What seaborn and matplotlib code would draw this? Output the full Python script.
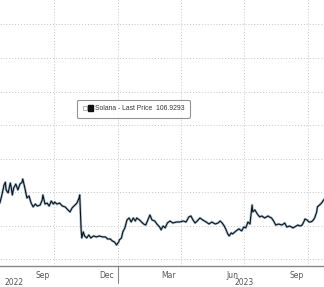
import matplotlib
matplotlib.use("Agg")
import matplotlib.pyplot as plt
import matplotlib.dates as mdates
import matplotlib.transforms as mtransforms
from matplotlib.patches import Patch
from matplotlib.lines import Line2D
from matplotlib.legend_handler import HandlerTuple
import pandas as pd
import seaborn as sns

dates = [
    "2022-07-15", "2022-07-18", "2022-07-21", "2022-07-23", "2022-07-24", "2022-07-27",
    "2022-07-30", "2022-07-31", "2022-08-02", "2022-08-04", "2022-08-07", "2022-08-10",
    "2022-08-13", "2022-08-16", "2022-08-17", "2022-08-20", "2022-08-23", "2022-08-26",
    "2022-08-29", "2022-09-01", "2022-09-04", "2022-09-07", "2022-09-11", "2022-09-14",
    "2022-09-15", "2022-09-18", "2022-09-21", "2022-09-24", "2022-09-27", "2022-09-30",
    "2022-10-02", "2022-10-05", "2022-10-09", "2022-10-13", "2022-10-17", "2022-10-21",
    "2022-10-24", "2022-10-27", "2022-10-31", "2022-11-03", "2022-11-06", "2022-11-07",
    "2022-11-08", "2022-11-09", "2022-11-10", "2022-11-12", "2022-11-14", "2022-11-17",
    "2022-11-20", "2022-11-23", "2022-11-27", "2022-12-01", "2022-12-05", "2022-12-10",
    "2022-12-14", "2022-12-17", "2022-12-21", "2022-12-24", "2022-12-27", "2022-12-30",
    "2023-01-02", "2023-01-03", "2023-01-06", "2023-01-08", "2023-01-11", "2023-01-12",
    "2023-01-14", "2023-01-17", "2023-01-20", "2023-01-23", "2023-01-26", "2023-01-28",
    "2023-02-01", "2023-02-04", "2023-02-07", "2023-02-10", "2023-02-13", "2023-02-16",
    "2023-02-19", "2023-02-23", "2023-02-26", "2023-03-02", "2023-03-04", "2023-03-07",
    "2023-03-10", "2023-03-13", "2023-03-17", "2023-03-21", "2023-03-26", "2023-03-31",
    "2023-04-05", "2023-04-09", "2023-04-13", "2023-04-16", "2023-04-19", "2023-04-22",
    "2023-04-25", "2023-04-29", "2023-05-03", "2023-05-08", "2023-05-12", "2023-05-16",
    "2023-05-21", "2023-05-25", "2023-05-28", "2023-05-31", "2023-06-03", "2023-06-05",
    "2023-06-08", "2023-06-10", "2023-06-13", "2023-06-15", "2023-06-20", "2023-06-24",
    "2023-06-28", "2023-07-01", "2023-07-04", "2023-07-07", "2023-07-10", "2023-07-13",
    "2023-07-14", "2023-07-17", "2023-07-21", "2023-07-24", "2023-07-27", "2023-07-31",
    "2023-08-05", "2023-08-07", "2023-08-10", "2023-08-13", "2023-08-16", "2023-08-20",
    "2023-08-25", "2023-08-29", "2023-09-01", "2023-09-05", "2023-09-10", "2023-09-12",
    "2023-09-17", "2023-09-20", "2023-09-23", "2023-09-26", "2023-09-27", "2023-09-30",
    "2023-10-03", "2023-10-05", "2023-10-08", "2023-10-11", "2023-10-14", "2023-10-15",
    "2023-10-18", "2023-10-21", "2023-10-24", "2023-10-25",
]
prices = [
    33.6, 38.4, 44.3, 46.0, 41.4, 39.6,
    45.5, 43.8, 38.4, 42.6, 44.9, 41.4,
    44.9, 46.0, 47.9, 42.6, 36.6, 37.8,
    33.6, 31.3, 33.0, 31.8, 32.4, 35.4,
    38.4, 33.0, 33.6, 31.8, 34.8, 33.0,
    34.2, 33.0, 33.6, 31.8, 31.3, 29.5,
    28.3, 30.7, 32.4, 33.6, 36.6, 38.4,
    27.7, 17.6, 12.8, 16.4, 14.0, 12.8,
    14.6, 12.8, 14.0, 13.4, 14.0, 13.4,
    13.4, 12.2, 12.2, 11.0, 10.4, 8.6,
    10.4, 11.6, 12.8, 16.4, 18.8, 20.5,
    23.5, 24.7, 22.3, 24.7, 22.9, 24.7,
    23.5, 22.3, 21.1, 20.5, 23.5, 26.5,
    23.5, 22.9, 21.1, 19.3, 17.6, 19.9,
    18.8, 21.7, 22.9, 21.7, 22.3, 22.3,
    22.9, 22.3, 25.3, 25.9, 23.5, 21.7,
    22.9, 24.7, 23.5, 22.3, 21.1, 22.3,
    21.1, 21.7, 22.9, 21.7, 19.9, 18.2,
    15.2, 14.0, 15.8, 15.2, 17.0, 18.2,
    17.0, 19.3, 18.8, 22.3, 21.1, 32.4,
    28.3, 29.5, 26.8, 25.3, 25.9, 24.7,
    25.9, 25.3, 24.7, 22.9, 20.5, 21.1,
    20.5, 21.7, 19.3, 19.9, 18.8, 19.3,
    20.5, 19.9, 20.5, 22.9, 24.1, 23.5,
    22.3, 22.3, 22.9, 24.7, 28.3, 31.3,
    32.4, 33.6, 35.4, 36.0,
]
series_label = "Solana - Last Price  106.9293"
month_labels = ["Sep", "Dec", "Mar", "Jun", "Sep"]
month_label_dates = ["2022-09-15", "2022-12-15", "2023-03-15", "2023-06-15", "2023-09-15"]
year_labels = ["2022", "2023"]
year_label_dates = ["2022-08-05", "2023-07-01"]

df = pd.DataFrame({"date": pd.to_datetime(dates), "price": prices})

sns.set_style("white")
plt.rcParams["font.family"] = ["DejaVu Sans"]

fig = plt.figure(figsize=(3.24, 2.87), dpi=100)
ax = fig.add_axes([0, 21 / 287, 1, 266 / 287])

sns.lineplot(data=df, x="date", y="price", ax=ax, color="#6a9cc4", linewidth=1.8, alpha=0.6)
sns.lineplot(data=df, x="date", y="price", ax=ax, color="#111111", linewidth=0.8)

ax.set_xlim(pd.Timestamp("2022-07-15 06:00"), pd.Timestamp("2023-10-24 12:00"))
ax.set_ylim(-3.9, 154.5)
ax.set_yticks(range(0, 160, 20))
ax.set_xticks(pd.to_datetime(["2022-10-01", "2023-01-01", "2023-04-01", "2023-07-01", "2023-10-01"]))
ax.xaxis.set_minor_locator(mdates.MonthLocator())
ax.grid(True, which="major", color="#c4c4c4", linestyle=(0, (1, 2)), linewidth=0.7)
ax.set_xticklabels([])
ax.set_yticklabels([])
ax.tick_params(axis="y", length=0)
ax.tick_params(axis="x", which="major", length=3, color="#777777", direction="out")
ax.tick_params(axis="x", which="minor", length=2.5, color="#777777", direction="out")
ax.set_xlabel("")
ax.set_ylabel("")
for s in ["top", "left", "right"]:
    ax.spines[s].set_visible(False)
ax.spines["bottom"].set_color("#888888")
ax.spines["bottom"].set_linewidth(1.0)

trans = mtransforms.blended_transform_factory(ax.transData, ax.transAxes)
ax.plot([pd.Timestamp("2023-01-01")] * 2, [0, -0.065], transform=trans, color="#888888",
        linewidth=0.8, clip_on=False)

for lab, d in zip(month_labels, month_label_dates):
    ax.text(pd.Timestamp(d), -0.017, lab, transform=trans, ha="center", va="top",
            fontsize=5.5, color="#555555")
for lab, d in zip(year_labels, year_label_dates):
    ax.text(pd.Timestamp(d), -0.046, lab, transform=trans, ha="center", va="top",
            fontsize=5.5, color="#555555")

small_sq = Line2D([], [], marker="s", markersize=2.2, markerfacecolor="white",
                  markeredgecolor="#999999", markeredgewidth=0.5, linestyle="")
big_sq = Patch(facecolor="#111111", edgecolor="#111111")
leg = ax.legend(handles=[(small_sq, big_sq)], labels=[series_label],
                handler_map={tuple: HandlerTuple(ndivide=None, pad=0.2)},
                loc="upper left", bbox_to_anchor=(0.238, 0.625),
                prop={"family": "Liberation Sans", "size": 4.9}, frameon=True,
                handlelength=1.5, handleheight=0.9, handletextpad=0.3, borderpad=0.8,
                fancybox=True, edgecolor="#777777", borderaxespad=0)
leg.get_frame().set_linewidth(0.8)
for t in leg.get_texts():
    t.set_color("#333333")

fig.savefig("out.png", dpi=100)
